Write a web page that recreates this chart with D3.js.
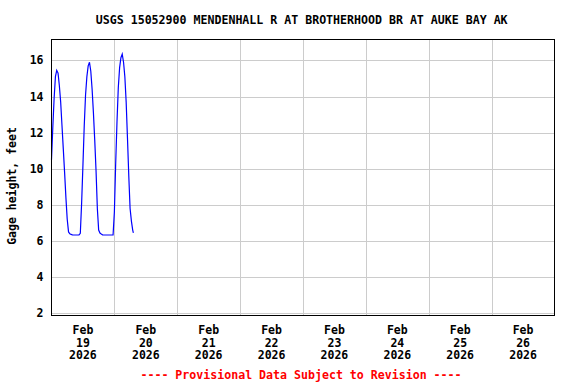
<!DOCTYPE html>
<html>
<head>
<meta charset="utf-8">
<script src="https://cdn.jsdelivr.net/npm/d3@7"></script>
<style>
  html, body { margin: 0; padding: 0; background: #fff; }
  svg { display: block; }
  text { font-family: "DejaVu Sans Mono", "Liberation Mono", monospace; font-weight: bold; }
</style>
</head>
<body>
<svg id="chart" width="576" height="384"></svg>
<script>
const title = "USGS 15052900 MENDENHALL R AT BROTHERHOOD BR AT AUKE BAY AK";
const yLabel = "Gage height, feet";
const footer = "---- Provisional Data Subject to Revision ----";

// hours after 2026-02-19 00:00 (30-minute readings)
const hours = [0, 0.5, 1, 1.5, 2, 2.5, 3, 3.5, 4, 4.5, 5, 5.5, 6, 6.5, 7, 7.5, 8, 8.5, 9, 9.5, 10, 10.5, 11,
  11.5, 12, 12.5, 13, 13.5, 14, 14.5, 15, 15.5, 16, 16.5, 17, 17.5, 18, 18.5, 19, 19.5, 20, 20.5, 21, 21.5, 22, 22.5, 23, 23.5,
  24, 24.5, 25, 25.5, 26, 26.5, 27, 27.5, 28, 28.5, 29, 29.5, 30, 30.5, 31, 31.25];
const gageHeight = [10.5, 12.3, 13.9, 15.1, 15.45, 15.3, 14.6, 13.7, 12.4, 11.1, 9.8, 8.4, 7.2, 6.5, 6.40, 6.36, 6.34, 6.33, 6.33, 6.33, 6.33, 6.33, 6.42,
  8.1, 10.2, 12.4, 14.1, 15.1, 15.7, 15.9, 15.4, 14.4, 13.1, 11.6, 9.9, 7.8, 6.6, 6.44, 6.38, 6.34, 6.33, 6.33, 6.33, 6.33, 6.33, 6.33, 6.33, 6.33,
  7.6, 10.3, 12.6, 14.5, 15.6, 16.15, 16.35, 15.9, 15.1, 13.7, 11.7, 9.6, 7.8, 7.1, 6.6, 6.45];

const dayLabels = ["19", "20", "21", "22", "23", "24", "25", "26"];
const monthLabel = "Feb";
const yearLabel = "2026";
const yTicks = [2, 4, 6, 8, 10, 12, 14, 16];

const t0 = Date.UTC(2026, 1, 19);
const data = hours.map((h, i) => ({ t: new Date(t0 + h * 3600e3), v: gageHeight[i] }));

const svg = d3.select("#chart");
const L = 51.5, R = 554.5, T = 39.5, B = 315.5;

const x = d3.scaleUtc()
  .domain([new Date(t0), new Date(t0 + 8 * 86400e3)])
  .range([L, R]);
const y = d3.scaleLinear().domain([1.87, 17.16]).range([B, T]);

// grid
const dayTicks = d3.range(1, 8).map(d => new Date(t0 + d * 86400e3));
svg.append("g").selectAll("line").data(dayTicks).join("line")
  .attr("x1", d => Math.round(x(d)) + 0.5).attr("x2", d => Math.round(x(d)) + 0.5)
  .attr("y1", T).attr("y2", B)
  .attr("stroke", "#cccccc").attr("stroke-width", 1);
svg.append("g").selectAll("line").data(yTicks).join("line")
  .attr("x1", L).attr("x2", R)
  .attr("y1", d => Math.round(y(d)) + 0.5).attr("y2", d => Math.round(y(d)) + 0.5)
  .attr("stroke", "#cccccc").attr("stroke-width", 1);

// data line
svg.append("path").datum(data)
  .attr("fill", "none").attr("stroke", "#0000ff").attr("stroke-width", 1.2)
  .attr("d", d3.line().x(d => x(d.t)).y(d => y(d.v)));

// frame
svg.append("rect").attr("x", L).attr("y", T).attr("width", R - L).attr("height", B - T)
  .attr("fill", "none").attr("stroke", "#000").attr("stroke-width", 1);

// y tick labels
svg.append("g").selectAll("text").data(yTicks).join("text")
  .attr("x", 43.5).attr("y", d => y(d) + 4)
  .attr("text-anchor", "end").attr("font-size", "11.5px").attr("fill", "#000")
  .text(d => d);

// x labels
const xl = svg.append("g").selectAll("g").data(dayLabels).join("g")
  .attr("transform", (d, i) => `translate(${x(new Date(t0 + (i + 0.5) * 86400e3))},0)`);
xl.append("text").attr("y", 334).attr("text-anchor", "middle").attr("font-size", "11.5px").text(monthLabel);
xl.append("text").attr("y", 346.7).attr("text-anchor", "middle").attr("font-size", "11.5px").text(d => d);
xl.append("text").attr("y", 359.3).attr("text-anchor", "middle").attr("font-size", "11.5px").text(yearLabel);

// title
svg.append("text").attr("x", 301.7).attr("y", 24).attr("text-anchor", "middle")
  .attr("font-size", "11.6px").text(title);

// y axis title
svg.append("text").attr("transform", "translate(16,186) rotate(-90)")
  .attr("text-anchor", "middle").attr("font-size", "11.5px").text(yLabel);

// footer
svg.append("text").attr("x", 301).attr("y", 378.5).attr("text-anchor", "middle")
  .attr("font-size", "11.6px").attr("fill", "#ff0000").text(footer);
</script>
</body>
</html>
